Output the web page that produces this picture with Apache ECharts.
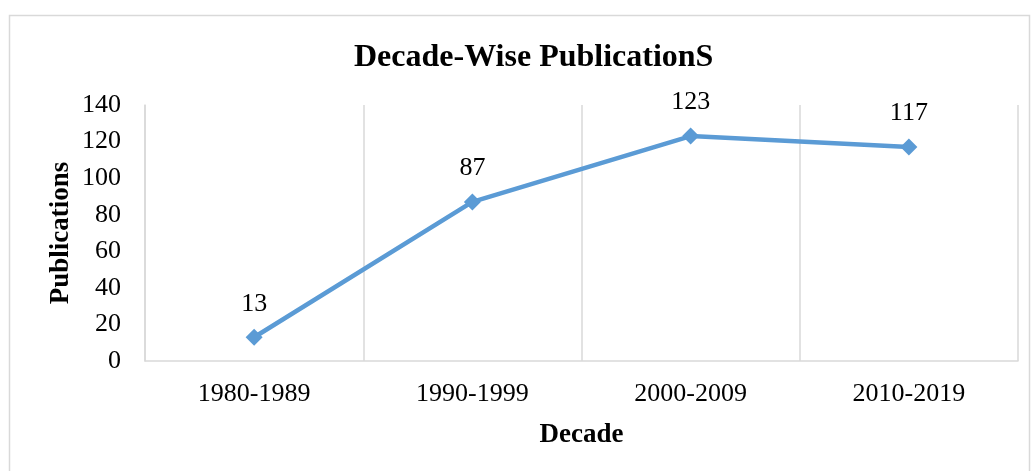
<!DOCTYPE html>
<html>
<head>
<meta charset="utf-8">
<script src="https://cdn.jsdelivr.net/npm/echarts@6/dist/echarts.min.js"></script>
<style>
  html, body { margin: 0; padding: 0; background: #fff; }
  #chart { width: 1032px; height: 471px; }
</style>
</head>
<body>
<div id="chart"></div>
<script>
  // data
  const decades = ['1980-1989', '1990-1999', '2000-2009', '2010-2019'];
  const publications = [13, 87, 123, 117];

  const serif = '"Liberation Serif", "Times New Roman", serif';
  const chart = echarts.init(document.getElementById('chart'));

  chart.setOption({
    animation: false,
    title: {
      text: 'Decade-Wise PublicationS',
      left: 349,
      top: 37,
      textStyle: { fontFamily: serif, fontSize: 32, fontWeight: 'bold', color: '#000' }
    },
    graphic: [{
      type: 'rect',
      shape: { x: 9.5, y: 15.5, width: 1020, height: 470 },
      style: { fill: 'none', stroke: '#d9d9d9', lineWidth: 1.5 },
      silent: true
    }],
    grid: { left: 145, right: 14, top: 105, bottom: 110 },
    xAxis: {
      type: 'category',
      data: decades,
      name: 'Decade',
      nameLocation: 'middle',
      nameGap: 61,
      nameMoveOverlap: false,
      nameTextStyle: { fontFamily: serif, fontSize: 27, fontWeight: 'bold', color: '#000' },
      axisLine: { lineStyle: { color: '#d9d9d9', width: 1.5 } },
      axisTick: { show: false },
      axisLabel: { fontFamily: serif, fontSize: 26, color: '#000', margin: 20 },
      splitLine: { show: true, lineStyle: { color: '#d9d9d9', width: 1.5 } }
    },
    yAxis: {
      type: 'value',
      min: 0,
      max: 140,
      interval: 20,
      name: 'Publications',
      nameLocation: 'middle',
      nameGap: 70,
      nameMoveOverlap: false,
      nameTextStyle: { fontFamily: serif, fontSize: 27, fontWeight: 'bold', color: '#000' },
      axisLine: { show: true, lineStyle: { color: '#d9d9d9', width: 1.5 } },
      axisTick: { show: false },
      axisLabel: { fontFamily: serif, fontSize: 26, color: '#000', margin: 24 },
      splitLine: { show: false }
    },
    series: [{
      type: 'line',
      data: publications,
      symbol: 'diamond',
      symbolSize: 17,
      lineStyle: { color: '#5b9bd5', width: 4.5 },
      itemStyle: { color: '#5b9bd5' },
      label: {
        show: true,
        position: 'top',
        distance: 12,
        fontFamily: serif,
        fontSize: 26,
        color: '#000'
      }
    }]
  });
</script>
</body>
</html>
